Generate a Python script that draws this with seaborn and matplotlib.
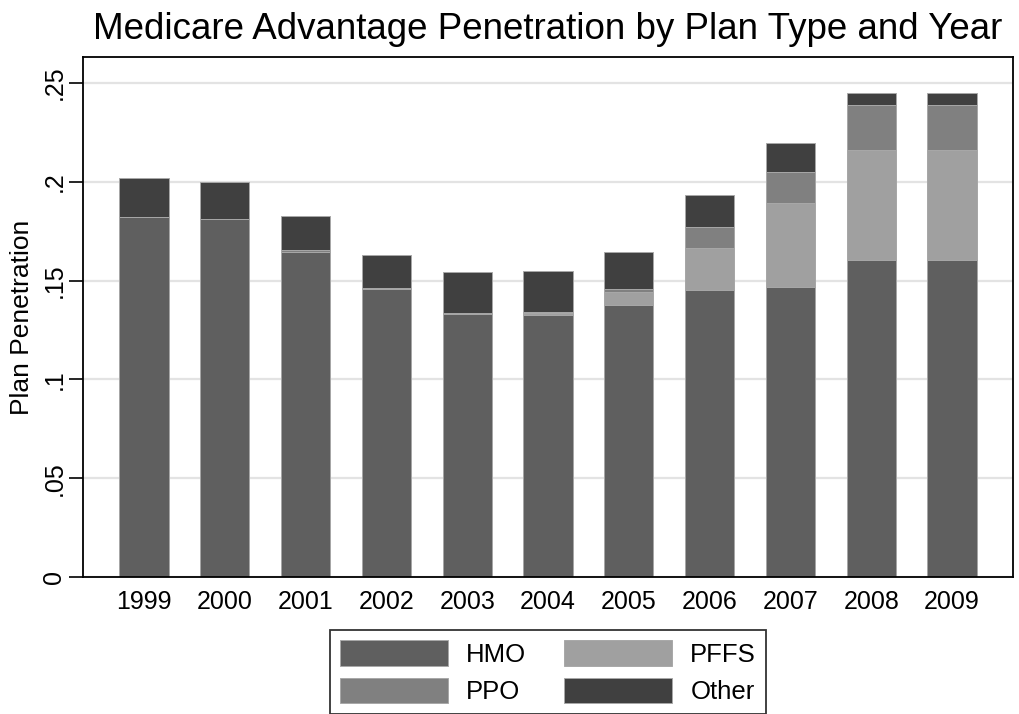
import numpy as np
import pandas as pd
import matplotlib
matplotlib.use("Agg")
import matplotlib.pyplot as plt
import seaborn as sns
from matplotlib.patches import Patch

# ---------------- data ----------------
years = [1999, 2000, 2001, 2002, 2003, 2004, 2005, 2006, 2007, 2008, 2009]
hmo   = [0.1823, 0.1813, 0.1644, 0.1457, 0.1331, 0.1327, 0.1378, 0.1454, 0.1468, 0.1602, 0.1602]
pffs  = [0.0000, 0.0000, 0.0000, 0.0000, 0.0000, 0.0008, 0.0062, 0.0211, 0.0423, 0.0560, 0.0560]
ppo   = [0.0000, 0.0000, 0.0010, 0.0006, 0.0007, 0.0008, 0.0017, 0.0108, 0.0160, 0.0227, 0.0227]
other = [0.0196, 0.0186, 0.0171, 0.0168, 0.0206, 0.0207, 0.0186, 0.0158, 0.0145, 0.0060, 0.0060]

series_names = ["HMO", "PFFS", "PPO", "Other"]
legend_order = ["HMO", "PPO", "PFFS", "Other"]
series_colors = ["#5f5f5f", "#a0a0a0", "#808080", "#404040"]
ytick_vals = [0, 0.05, 0.10, 0.15, 0.20, 0.25]
ytick_labels = ["0", ".05", ".1", ".15", ".2", ".25"]
title = "Medicare Advantage Penetration by Plan Type and Year"
ylabel = "Plan Penetration"

# ---------------- style ----------------
sns.set_theme(style="white")
plt.rcParams["font.family"] = ["Liberation Sans", "DejaVu Sans"]
plt.rcParams["text.color"] = "black"
plt.rcParams["axes.labelcolor"] = "black"
plt.rcParams["xtick.color"] = "black"
plt.rcParams["ytick.color"] = "black"

colors = dict(zip(series_names, series_colors))

df = pd.DataFrame({"year": [str(y) for y in years],
                   "HMO": hmo, "PFFS": pffs, "PPO": ppo, "Other": other})
df["cum_HMO"] = df["HMO"]
df["cum_PFFS"] = df["cum_HMO"] + df["PFFS"]
df["cum_PPO"] = df["cum_PFFS"] + df["PPO"]
df["cum_Other"] = df["cum_PPO"] + df["Other"]

fig = plt.figure(figsize=(10.19, 7.14), dpi=100)
ax = fig.add_axes([83 / 1019, 1 - 577.3 / 714, (1013 - 83) / 1019, (577.3 - 57) / 714])

edge = "#a8a8a8"
for name in reversed(series_names):
    sns.barplot(data=df, x="year", y="cum_" + name, color=colors[name],
                saturation=1, width=0.61, edgecolor=edge, linewidth=0.7,
                errorbar=None, ax=ax)

ax.set_xlim(-0.755, len(years) - 1 + 0.755)
ax.set_ylim(0, 0.263)
ax.set_yticks(ytick_vals)
ax.set_yticklabels(ytick_labels)
ax.yaxis.grid(True, color="#e3e3e3", linewidth=1.6)
ax.xaxis.grid(False)
ax.set_axisbelow(True)

for sp in ax.spines.values():
    sp.set_visible(True)
    sp.set_color("black")
    sp.set_linewidth(1.3)

ax.tick_params(axis="y", length=10, width=1.2, color="black", direction="out",
               pad=2, labelsize=18, left=True, labelcolor="black")
for lab in ax.get_yticklabels():
    lab.set_rotation(90)
    lab.set_va("center")
ax.tick_params(axis="x", length=0, pad=9, labelsize=18, labelcolor="black")

ax.set_xlabel("")
ax.set_ylabel(ylabel, fontsize=19, labelpad=6, color="black")
ax.set_title(title, fontsize=26.5, pad=13, color="black")

handles = [Patch(facecolor=colors[n], edgecolor=edge, linewidth=0.7, label=n)
           for n in legend_order]
leg = fig.legend(handles=handles, ncol=2, loc="upper center",
                 bbox_to_anchor=(548 / 1019, 1 - 630 / 714),
                 frameon=True, fancybox=False, edgecolor="black",
                 fontsize=18.5, handlelength=4.2, handleheight=1.15,
                 handletextpad=0.7, columnspacing=1.5, labelspacing=0.42,
                 borderpad=0.4, borderaxespad=0)
leg.get_frame().set_linewidth(1.3)
for t in leg.get_texts():
    t.set_color("black")

fig.savefig("out.png", dpi=100)
